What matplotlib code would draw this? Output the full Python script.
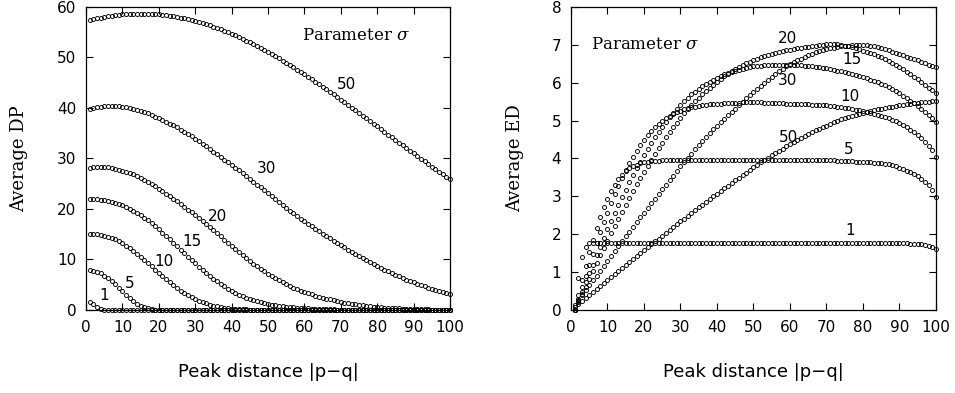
import matplotlib
matplotlib.use("Agg")
import matplotlib.pyplot as plt

plt.rcParams['mathtext.fontset'] = 'dejavuserif'

# peak distance values on the x axis
peak_dist = list(range(1, 101))
sigmas = [1, 5, 10, 15, 20, 30, 50]

# ---- left panel: Average DP, one list per sigma
dp_s1 = [
    1.60, 1.15, 0.60, 0.25, 0.08, 0.02, 0, 0, 0, 0,
    0, 0, 0, 0, 0, 0, 0, 0, 0, 0,
    0, 0, 0, 0, 0, 0, 0, 0, 0, 0,
    0, 0, 0, 0, 0, 0, 0, 0, 0, 0,
    0, 0, 0, 0, 0, 0, 0, 0, 0, 0,
    0, 0, 0, 0, 0, 0, 0, 0, 0, 0,
    0, 0, 0, 0, 0, 0, 0, 0, 0, 0,
    0, 0, 0, 0, 0, 0, 0, 0, 0, 0,
    0, 0, 0, 0, 0, 0, 0, 0, 0, 0,
    0, 0, 0, 0, 0, 0, 0, 0, 0, 0]
dp_s5 = [
    7.83, 7.73, 7.54, 7.25, 6.83, 6.32, 5.71, 5.06, 4.36, 3.67,
    3.01, 2.35, 1.75, 1.25, 0.85, 0.52, 0.30, 0.16, 0.08, 0.04,
    0.02, 0.01, 0, 0, 0, 0, 0, 0, 0, 0,
    0, 0, 0, 0, 0, 0, 0, 0, 0, 0,
    0, 0, 0, 0, 0, 0, 0, 0, 0, 0,
    0, 0, 0, 0, 0, 0, 0, 0, 0, 0,
    0, 0, 0, 0, 0, 0, 0, 0, 0, 0,
    0, 0, 0, 0, 0, 0, 0, 0, 0, 0,
    0, 0, 0, 0, 0, 0, 0, 0, 0, 0,
    0, 0, 0, 0, 0, 0, 0, 0, 0, 0]
dp_s10 = [
    15.10, 15.06, 15.00, 14.89, 14.74, 14.54, 14.30, 14.00, 13.64, 13.23,
    12.77, 12.28, 11.74, 11.16, 10.56, 9.93, 9.28, 8.64, 7.98, 7.32,
    6.68, 6.06, 5.45, 4.88, 4.33, 3.82, 3.35, 2.90, 2.50, 2.14,
    1.82, 1.54, 1.29, 1.07, 0.88, 0.71, 0.57, 0.46, 0.37, 0.29,
    0.23, 0.18, 0.14, 0.11, 0.08, 0.06, 0.045, 0.035, 0.025, 0.02,
    0.015, 0.01, 0.01, 0, 0, 0, 0, 0, 0, 0,
    0, 0, 0, 0, 0, 0, 0, 0, 0, 0,
    0, 0, 0, 0, 0, 0, 0, 0, 0, 0,
    0, 0, 0, 0, 0, 0, 0, 0, 0, 0,
    0, 0, 0, 0, 0, 0, 0, 0, 0, 0]
dp_s15 = [
    21.97, 21.95, 21.90, 21.85, 21.76, 21.63, 21.47, 21.27, 21.03, 20.75,
    20.43, 20.06, 19.67, 19.23, 18.74, 18.24, 17.73, 17.16, 16.57, 15.95,
    15.31, 14.65, 13.97, 13.29, 12.61, 11.92, 11.24, 10.56, 9.90, 9.22,
    8.58, 7.94, 7.35, 6.75, 6.20, 5.68, 5.15, 4.66, 4.22, 3.78,
    3.39, 3.04, 2.71, 2.40, 2.13, 1.90, 1.70, 1.52, 1.36, 1.21,
    1.08, 0.96, 0.85, 0.75, 0.66, 0.58, 0.51, 0.45, 0.39, 0.34,
    0.30, 0.26, 0.22, 0.19, 0.16, 0.14, 0.12, 0.10, 0.085, 0.07,
    0.06, 0.05, 0.04, 0.03, 0.025, 0.02, 0.015, 0.01, 0.01, 0.005,
    0, 0, 0, 0, 0, 0, 0, 0, 0, 0,
    0, 0, 0, 0, 0, 0, 0, 0, 0, 0]
dp_s20 = [
    28.20, 28.30, 28.35, 28.36, 28.32, 28.24, 28.13, 27.99, 27.82, 27.62,
    27.39, 27.13, 26.84, 26.52, 26.17, 25.79, 25.38, 24.94, 24.48, 24.00,
    23.52, 23.03, 22.53, 22.02, 21.50, 20.97, 20.43, 19.88, 19.32, 18.75,
    18.17, 17.58, 16.99, 16.39, 15.79, 15.18, 14.57, 13.95, 13.33, 12.71,
    12.09, 11.48, 10.88, 10.29, 9.72, 9.17, 8.64, 8.13, 7.64, 7.17,
    6.72, 6.29, 5.88, 5.49, 5.12, 4.77, 4.44, 4.13, 3.84, 3.57,
    3.32, 3.09, 2.87, 2.66, 2.46, 2.27, 2.09, 1.92, 1.76, 1.61,
    1.47, 1.34, 1.22, 1.11, 1.01, 0.92, 0.83, 0.75, 0.68, 0.61,
    0.55, 0.49, 0.44, 0.39, 0.35, 0.31, 0.27, 0.24, 0.21, 0.18,
    0.16, 0.14, 0.12, 0.10, 0.09, 0.08, 0.07, 0.06, 0.05, 0.04]
dp_s30 = [
    39.80, 40.00, 40.15, 40.25, 40.30, 40.35, 40.38, 40.38, 40.33, 40.25,
    40.15, 40.02, 39.86, 39.66, 39.43, 39.20, 38.93, 38.64, 38.31, 37.97,
    37.64, 37.29, 36.93, 36.55, 36.15, 35.73, 35.30, 34.85, 34.38, 33.90,
    33.41, 32.91, 32.40, 31.88, 31.36, 30.84, 30.32, 29.80, 29.27, 28.74,
    28.20, 27.66, 27.11, 26.55, 25.99, 25.42, 24.85, 24.27, 23.69, 23.11,
    22.53, 21.95, 21.38, 20.81, 20.25, 19.69, 19.14, 18.60, 18.07, 17.55,
    17.05, 16.56, 16.07, 15.59, 15.12, 14.65, 14.19, 13.73, 13.28, 12.83,
    12.39, 11.95, 11.52, 11.09, 10.67, 10.26, 9.86, 9.47, 9.09, 8.71,
    8.34, 7.98, 7.63, 7.29, 6.96, 6.64, 6.33, 6.03, 5.74, 5.46,
    5.19, 4.93, 4.68, 4.43, 4.19, 3.96, 3.73, 3.51, 3.29, 3.07]
dp_s50 = [
    57.40, 57.58, 57.75, 57.90, 58.04, 58.16, 58.28, 58.37, 58.46, 58.53,
    58.59, 58.64, 58.67, 58.69, 58.70, 58.69, 58.67, 58.64, 58.59, 58.53,
    58.46, 58.37, 58.28, 58.16, 58.04, 57.90, 57.75, 57.58, 57.41, 57.22,
    57.02, 56.81, 56.58, 56.34, 56.09, 55.83, 55.56, 55.28, 54.99, 54.68,
    54.36, 54.04, 53.70, 53.36, 53.00, 52.63, 52.26, 51.87, 51.48, 51.08,
    50.67, 50.25, 49.83, 49.39, 48.95, 48.50, 48.05, 47.59, 47.12, 46.65,
    46.17, 45.68, 45.19, 44.70, 44.20, 43.70, 43.19, 42.68, 42.16, 41.64,
    41.12, 40.60, 40.07, 39.54, 39.01, 38.48, 37.94, 37.41, 36.87, 36.34,
    35.80, 35.27, 34.73, 34.19, 33.66, 33.12, 32.59, 32.06, 31.53, 31.00,
    30.47, 29.95, 29.43, 28.91, 28.39, 27.88, 27.36, 26.86, 26.35, 25.85]

# ---- right panel: Average ED
ed_s1 = [
    0.00, 0.84, 1.41, 1.67, 1.76, 1.78, 1.78, 1.78, 1.78, 1.78,
    1.78, 1.78, 1.78, 1.78, 1.78, 1.78, 1.78, 1.78, 1.78, 1.78,
    1.78, 1.78, 1.78, 1.78, 1.78, 1.78, 1.78, 1.78, 1.78, 1.78,
    1.78, 1.78, 1.78, 1.78, 1.78, 1.78, 1.78, 1.78, 1.78, 1.78,
    1.78, 1.78, 1.78, 1.78, 1.78, 1.78, 1.78, 1.78, 1.78, 1.78,
    1.78, 1.78, 1.78, 1.78, 1.78, 1.78, 1.78, 1.78, 1.78, 1.78,
    1.78, 1.78, 1.78, 1.78, 1.78, 1.78, 1.78, 1.78, 1.78, 1.78,
    1.78, 1.78, 1.78, 1.78, 1.78, 1.78, 1.78, 1.78, 1.78, 1.78,
    1.78, 1.78, 1.78, 1.78, 1.78, 1.78, 1.78, 1.77, 1.77, 1.77,
    1.76, 1.76, 1.75, 1.75, 1.74, 1.73, 1.72, 1.70, 1.67, 1.62]
ed_s5 = [
    0.00, 0.39, 0.78, 1.16, 1.52, 1.86, 2.17, 2.46, 2.72, 2.94,
    3.14, 3.31, 3.45, 3.57, 3.66, 3.74, 3.79, 3.84, 3.87, 3.90,
    3.91, 3.93, 3.93, 3.94, 3.95, 3.95, 3.95, 3.95, 3.95, 3.95,
    3.95, 3.95, 3.95, 3.95, 3.95, 3.95, 3.95, 3.95, 3.95, 3.95,
    3.95, 3.95, 3.95, 3.95, 3.95, 3.95, 3.95, 3.95, 3.95, 3.95,
    3.95, 3.95, 3.95, 3.95, 3.95, 3.95, 3.95, 3.95, 3.95, 3.95,
    3.95, 3.95, 3.95, 3.95, 3.95, 3.95, 3.95, 3.95, 3.95, 3.95,
    3.95, 3.95, 3.94, 3.94, 3.94, 3.93, 3.93, 3.92, 3.92, 3.91,
    3.91, 3.90, 3.89, 3.88, 3.87, 3.86, 3.85, 3.83, 3.80, 3.76,
    3.72, 3.68, 3.64, 3.59, 3.53, 3.47, 3.39, 3.29, 3.16, 2.98]
ed_s10 = [
    0.00, 0.30, 0.60, 0.91, 1.20, 1.49, 1.77, 2.05, 2.32, 2.57,
    2.82, 3.05, 3.28, 3.49, 3.69, 3.87, 4.04, 4.20, 4.35, 4.48,
    4.61, 4.72, 4.82, 4.91, 4.99, 5.06, 5.12, 5.17, 5.22, 5.26,
    5.30, 5.33, 5.35, 5.37, 5.39, 5.41, 5.42, 5.43, 5.44, 5.44,
    5.45, 5.46, 5.46, 5.47, 5.47, 5.47, 5.48, 5.48, 5.48, 5.48,
    5.48, 5.48, 5.47, 5.47, 5.47, 5.46, 5.46, 5.46, 5.45, 5.45,
    5.45, 5.44, 5.44, 5.43, 5.43, 5.42, 5.42, 5.41, 5.40, 5.40,
    5.39, 5.38, 5.37, 5.36, 5.34, 5.33, 5.31, 5.29, 5.27, 5.25,
    5.23, 5.21, 5.18, 5.15, 5.12, 5.09, 5.06, 5.02, 4.98, 4.93,
    4.88, 4.82, 4.76, 4.69, 4.61, 4.53, 4.44, 4.34, 4.22, 4.05]
ed_s15 = [
    0.00, 0.24, 0.48, 0.73, 0.97, 1.20, 1.44, 1.67, 1.89, 2.13,
    2.35, 2.56, 2.77, 2.98, 3.18, 3.38, 3.57, 3.75, 3.92, 4.09,
    4.25, 4.41, 4.56, 4.71, 4.84, 4.97, 5.09, 5.21, 5.32, 5.42,
    5.51, 5.60, 5.69, 5.76, 5.84, 5.91, 5.98, 6.03, 6.08, 6.13,
    6.18, 6.22, 6.25, 6.29, 6.32, 6.34, 6.37, 6.39, 6.41, 6.43,
    6.44, 6.45, 6.46, 6.47, 6.47, 6.48, 6.48, 6.48, 6.48, 6.48,
    6.47, 6.47, 6.46, 6.45, 6.44, 6.43, 6.42, 6.41, 6.40, 6.38,
    6.36, 6.34, 6.32, 6.30, 6.28, 6.26, 6.24, 6.21, 6.18, 6.15,
    6.12, 6.08, 6.05, 6.01, 5.97, 5.93, 5.88, 5.83, 5.78, 5.72,
    5.66, 5.60, 5.53, 5.46, 5.39, 5.31, 5.23, 5.15, 5.06, 4.97]
ed_s20 = [
    0.00, 0.21, 0.41, 0.62, 0.83, 1.03, 1.23, 1.44, 1.64, 1.83,
    2.03, 2.22, 2.41, 2.60, 2.78, 2.97, 3.14, 3.32, 3.49, 3.65,
    3.81, 3.97, 4.12, 4.27, 4.42, 4.56, 4.69, 4.82, 4.95, 5.07,
    5.19, 5.30, 5.40, 5.51, 5.61, 5.70, 5.79, 5.87, 5.95, 6.03,
    6.10, 6.17, 6.24, 6.30, 6.36, 6.41, 6.46, 6.51, 6.55, 6.59,
    6.63, 6.67, 6.70, 6.73, 6.76, 6.79, 6.81, 6.83, 6.86, 6.87,
    6.89, 6.91, 6.92, 6.94, 6.95, 6.97, 6.98, 6.99, 7.00, 7.01,
    7.02, 7.02, 7.01, 7.00, 6.98, 6.96, 6.94, 6.91, 6.88, 6.85,
    6.82, 6.79, 6.75, 6.71, 6.67, 6.63, 6.58, 6.53, 6.47, 6.41,
    6.35, 6.29, 6.23, 6.16, 6.09, 6.02, 5.95, 5.87, 5.80, 5.72]
ed_s30 = [
    0.13, 0.26, 0.39, 0.52, 0.65, 0.78, 0.91, 1.04, 1.17, 1.30,
    1.43, 1.56, 1.69, 1.82, 1.95, 2.07, 2.20, 2.32, 2.45, 2.57,
    2.70, 2.82, 2.94, 3.07, 3.19, 3.31, 3.43, 3.55, 3.67, 3.79,
    3.91, 4.02, 4.13, 4.24, 4.35, 4.46, 4.57, 4.67, 4.77, 4.87,
    4.96, 5.05, 5.14, 5.23, 5.32, 5.41, 5.50, 5.59, 5.67, 5.76,
    5.84, 5.92, 6.00, 6.08, 6.16, 6.23, 6.30, 6.37, 6.43, 6.49,
    6.54, 6.59, 6.64, 6.68, 6.72, 6.76, 6.80, 6.83, 6.86, 6.89,
    6.91, 6.93, 6.95, 6.96, 6.97, 6.98, 6.99, 7.00, 7.00, 7.00,
    6.99, 6.98, 6.96, 6.94, 6.92, 6.89, 6.86, 6.82, 6.79, 6.76,
    6.73, 6.69, 6.66, 6.62, 6.59, 6.55, 6.52, 6.48, 6.45, 6.41]
ed_s50 = [
    0.08, 0.16, 0.24, 0.32, 0.40, 0.48, 0.56, 0.64, 0.72, 0.80,
    0.88, 0.96, 1.03, 1.11, 1.19, 1.27, 1.35, 1.42, 1.50, 1.58,
    1.66, 1.73, 1.81, 1.88, 1.96, 2.04, 2.11, 2.19, 2.26, 2.34,
    2.41, 2.49, 2.56, 2.63, 2.71, 2.78, 2.85, 2.92, 3.00, 3.07,
    3.14, 3.21, 3.28, 3.35, 3.42, 3.49, 3.56, 3.63, 3.70, 3.77,
    3.83, 3.90, 3.96, 4.02, 4.08, 4.14, 4.20, 4.26, 4.32, 4.38,
    4.43, 4.49, 4.54, 4.59, 4.64, 4.69, 4.74, 4.78, 4.83, 4.87,
    4.92, 4.96, 5.00, 5.03, 5.07, 5.10, 5.13, 5.16, 5.18, 5.21,
    5.23, 5.26, 5.28, 5.30, 5.32, 5.34, 5.36, 5.37, 5.39, 5.40,
    5.42, 5.43, 5.45, 5.46, 5.47, 5.48, 5.49, 5.50, 5.51, 5.52]

dp_curves = [dp_s1, dp_s5, dp_s10, dp_s15, dp_s20, dp_s30, dp_s50]
ed_curves = [ed_s1, ed_s5, ed_s10, ed_s15, ed_s20, ed_s30, ed_s50]

# where the sigma numbers are written next to the curves (data coords)
dp_label_xy = [(4.9, 2.8), (12.1, 5.3), (21.5, 9.6), (29.0, 13.5),
               (36.1, 18.5), (49.5, 28.1), (71.5, 44.6)]
ed_label_xy = [(76.4, 2.11), (76.0, 4.23), (76.4, 5.64), (76.9, 6.61),
               (59.2, 7.18), (59.2, 6.06), (59.5, 4.56)]


def draw_panel(ax, curves, label_xy, ymax, ystep, ylabel, ylabel_x, param_xy):
    for vals in curves:
        ax.plot(peak_dist, vals, linestyle='none', marker='o', ms=2.9,
                mfc='none', mec='black', mew=0.65, clip_on=False, zorder=3)

    for s, (lx, ly) in zip(sigmas, label_xy):
        ax.text(lx, ly, str(s), fontsize=11, ha='center', va='center')

    ax.text(param_xy[0], param_xy[1], r'Parameter $\sigma$', fontsize=12,
            family='DejaVu Serif', ha='left', va='center')

    ax.set_xlim(0, 100)
    ax.set_ylim(0, ymax)
    ax.set_xticks(range(0, 101, 10))
    ax.set_yticks([i * ystep for i in range(int(ymax / ystep) + 1)])
    ax.tick_params(direction='in', top=True, right=True, length=5, width=0.8,
                   labelsize=11, pad=7)
    for sp in ax.spines.values():
        sp.set_linewidth(0.9)

    ax.set_ylabel(ylabel, fontsize=13, family='DejaVu Serif')
    ax.yaxis.set_label_coords(ylabel_x, 0.5)
    ax.set_xlabel('Peak distance |p\u2212q|', fontsize=13)
    ax.xaxis.set_label_coords(0.5, -0.175)


fig = plt.figure(figsize=(9.55, 3.93), dpi=100)
ax1 = fig.add_axes([0.0901, 0.2112, 0.3811, 0.771])
ax2 = fig.add_axes([0.5979, 0.2112, 0.3822, 0.771])

draw_panel(ax1, dp_curves, dp_label_xy, 60, 10, 'Average DP', -0.159, (59.3, 54.3))
draw_panel(ax2, ed_curves, ed_label_xy, 8, 1, 'Average ED', -0.129, (5.5, 7.0))

fig.savefig('out.png', dpi=100)
